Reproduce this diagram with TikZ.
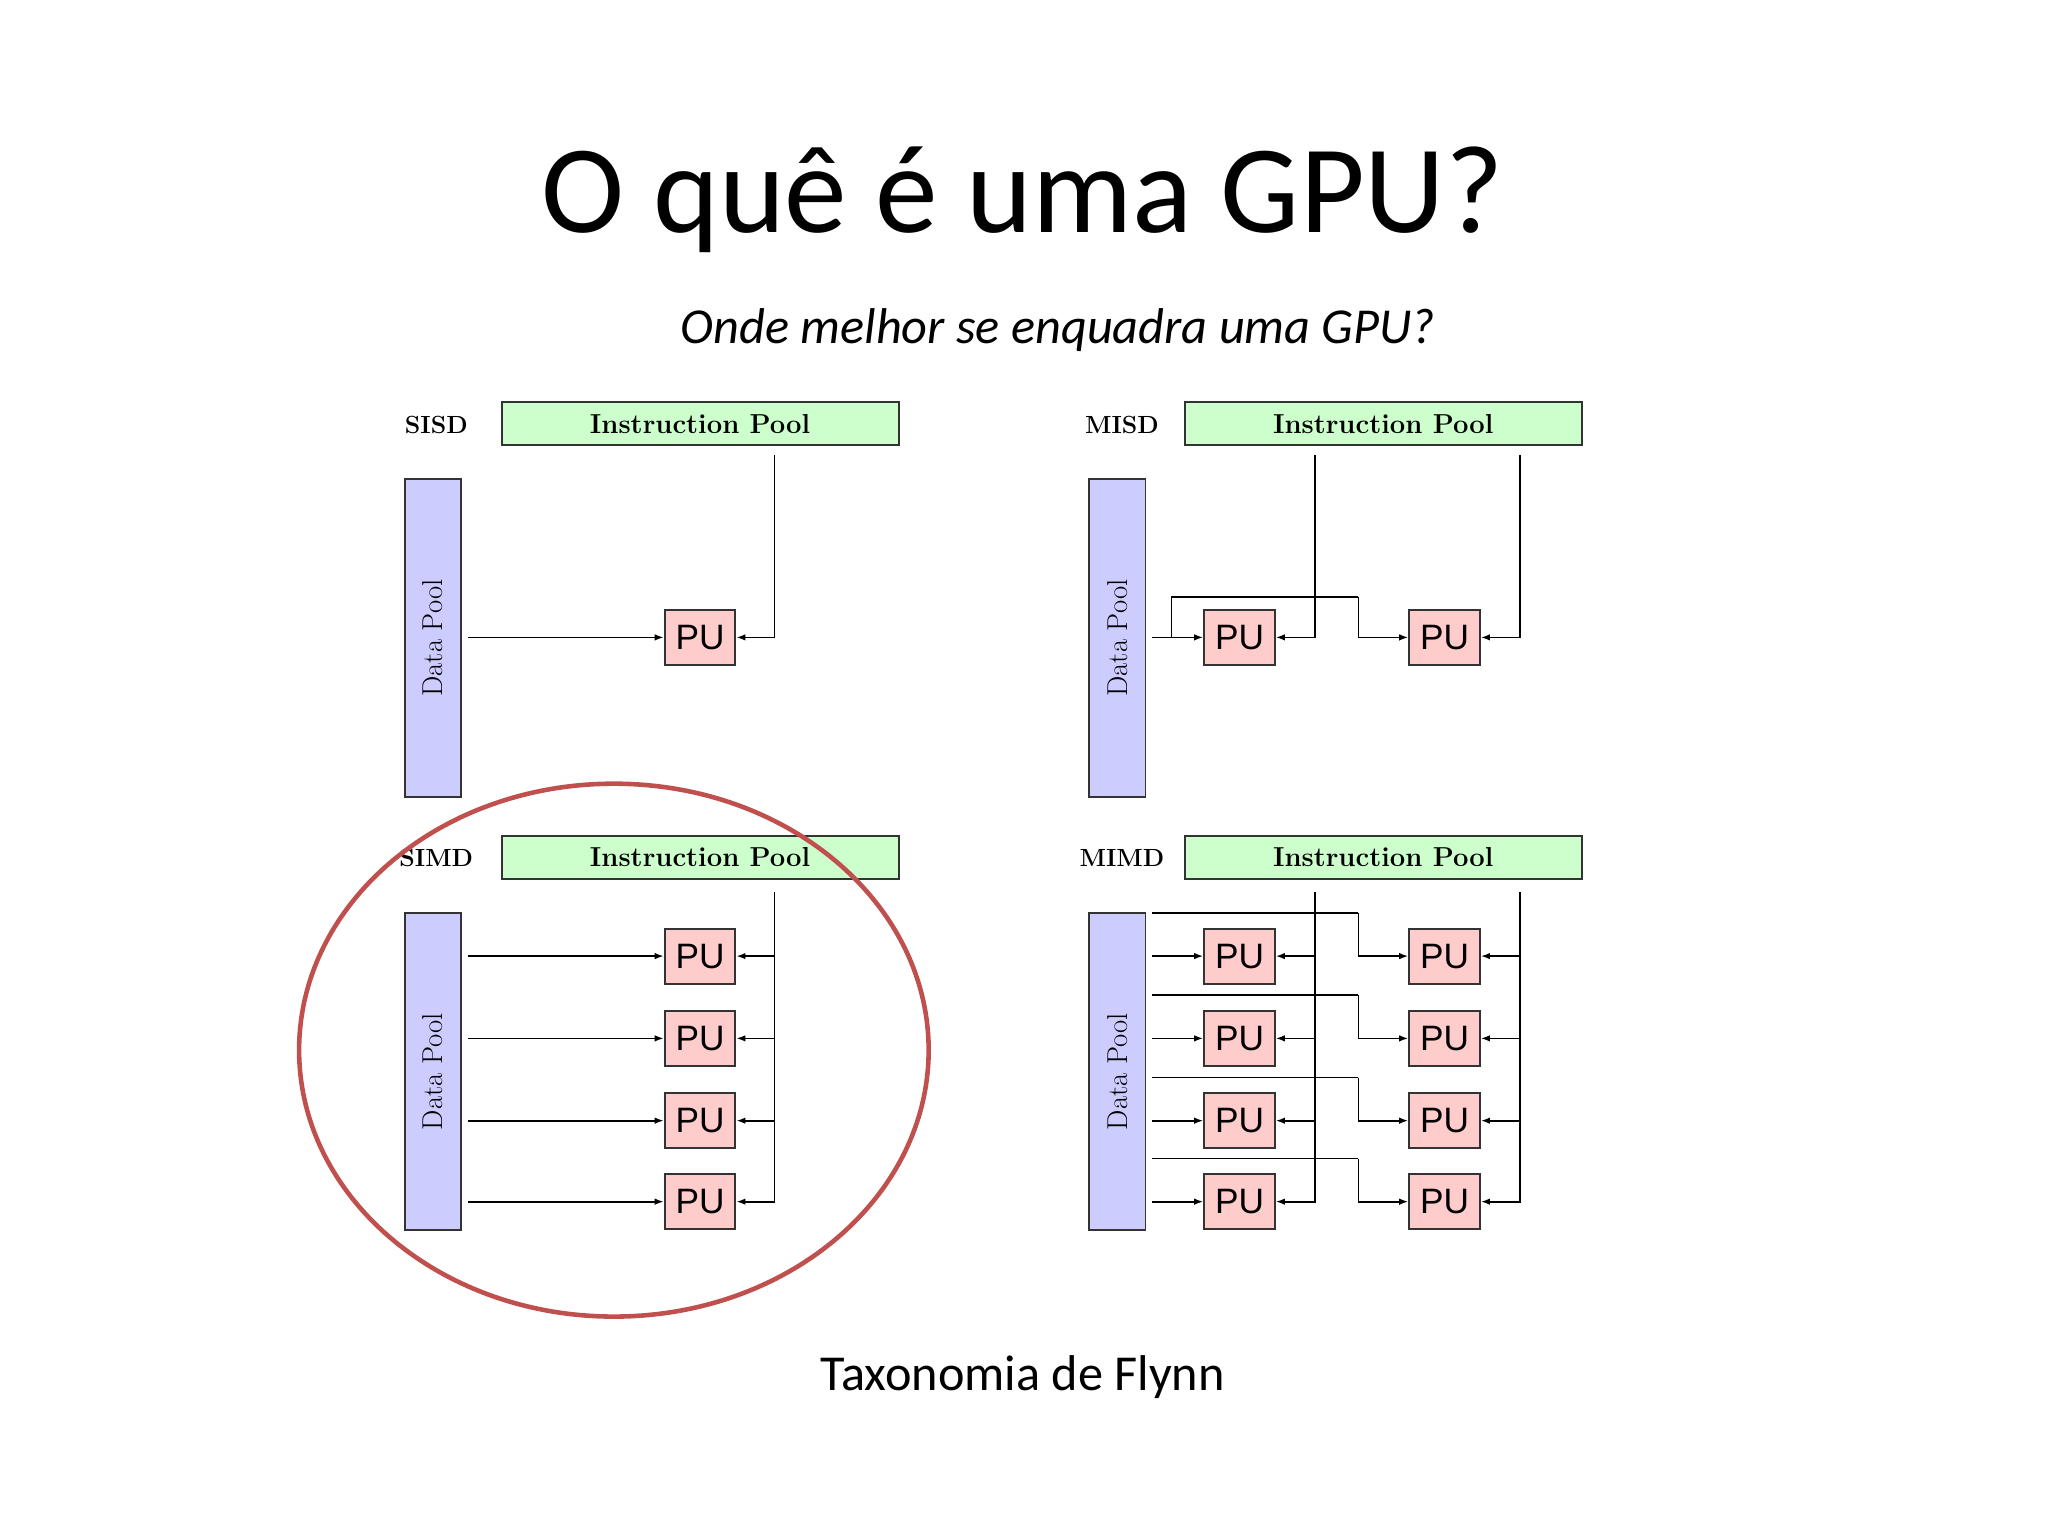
\documentclass[tikz,border=0pt]{standalone}
\usepackage{fontspec}
\newfontfamily\carl{Carlito}
\newfontfamily\lms{Liberation Sans}
\usetikzlibrary{arrows.meta,shapes.geometric}
\definecolor{ipg}{HTML}{CCFFCC}
\definecolor{dpb}{HTML}{CCCCFF}
\definecolor{pur}{HTML}{FFCCCC}
\definecolor{ell}{HTML}{C0504D}
\begin{document}
\begin{tikzpicture}[x=1pt,y=-1pt,
 ip/.style={draw=black!80,fill=ipg,line width=1.5pt,minimum width=304pt,minimum height=33pt,inner sep=0pt,font=\bfseries\fontsize{21}{21}\selectfont},
 dp/.style={draw=black!80,fill=dpb,line width=1.5pt,minimum width=43pt,minimum height=243pt,inner sep=0pt},
 pu/.style={draw=black!80,fill=pur,line width=1.5pt,minimum width=54pt,minimum height=42pt,inner sep=0pt,font=\lms\fontsize{27}{27}\selectfont},
 lab/.style={font=\bfseries\fontsize{19}{19}\selectfont},
 dpt/.style={rotate=90,font=\fontsize{22}{22}\selectfont},
 ln/.style={line width=1.3pt},
 ar/.style={ln,-{Latex[length=7pt,width=5pt]}}]
\useasboundingbox (0,0) rectangle (1568,1176);
\node[font=\carl\fontsize{96}{96}\selectfont] (title) at (783,153) {O quê é uma GPU?};
\node[font=\carl\itshape\fontsize{38.5}{38.5}\selectfont] (sub) at (810,253) {Onde melhor se enquadra uma GPU?};
\node[font=\carl\fontsize{38.5}{38.5}\selectfont] (cap) at (783,1054) {Taxonomia de Flynn};
% SISD
\node[lab] (l1) at (334,325) {SISD};
\node[ip] (ip1) at (536,324.5) {Instruction Pool};
\node[dp] (dp1) at (331.5,488.5) {}; \node[dpt] at (dp1) {Data Pool};
\node[pu] (p1) at (536,488) {PU};
\coordinate (s1a) at (358,488); \coordinate (s1b) at (593,348);
\draw[ar] (s1a) -- (p1.west);
\draw[ar] (s1b) |- (p1.east);
% MISD
\node[lab] (l2) at (859,325) {MISD};
\node[ip] (ip2) at (1059,324.5) {Instruction Pool};
\node[dp] (dp2) at (855.5,488.5) {}; \node[dpt] at (dp2) {Data Pool};
\node[pu] (m1) at (949,488) {PU};
\node[pu] (m2) at (1106,488) {PU};
\coordinate (ma) at (882,488); \coordinate (mb) at (897,488); \coordinate (mc) at (1040,457);
\coordinate (i2a) at (1007,348); \coordinate (i2b) at (1164,348);
\draw[ar] (ma) -- (m1.west);
\draw[ln] (mb) |- (mc);
\draw[ar] (mc) |- (m2.west);
\draw[ar] (i2a) |- (m1.east);
\draw[ar] (i2b) |- (m2.east);
% SIMD
\node[lab] (l3) at (334,657) {SIMD};
\node[ip] (ip3) at (536,656.5) {Instruction Pool};
\node[dp] (dp3) at (331.5,820.5) {}; \node[dpt] at (dp3) {Data Pool};
\coordinate (i3) at (593,683);
\foreach \y [count=\k] in {732,795,858,920}{
  \node[pu] (q\k) at (536,\y) {PU};
  \coordinate (qa\k) at (358,\y);
  \draw[ar] (qa\k) -- (q\k.west);
  \draw[ar] (i3) |- (q\k.east);
}
% MIMD
\node[lab] (l4) at (859,657) {MIMD};
\node[ip] (ip4) at (1059,656.5) {Instruction Pool};
\node[dp] (dp4) at (855.5,820.5) {}; \node[dpt] at (dp4) {Data Pool};
\coordinate (i4a) at (1007,683); \coordinate (i4b) at (1164,683);
\foreach \y [count=\k] in {732,795,858,920}{
  \node[pu] (a\k) at (949,\y) {PU};
  \node[pu] (b\k) at (1106,\y) {PU};
  \coordinate (da\k) at (882,\y);
  \coordinate (db\k) at (882,\y-33);
  \coordinate (dc\k) at (1040,\y-33);
  \draw[ar] (da\k) -- (a\k.west);
  \draw[ln] (db\k) -- (dc\k);
  \draw[ar] (dc\k) |- (b\k.west);
  \draw[ar] (i4a) |- (a\k.east);
  \draw[ar] (i4b) |- (b\k.east);
}
% ellipse
\node[draw=ell,line width=3.5pt,ellipse,minimum width=482pt,minimum height=408pt] (el) at (470,804) {};
\end{tikzpicture}
\end{document}
